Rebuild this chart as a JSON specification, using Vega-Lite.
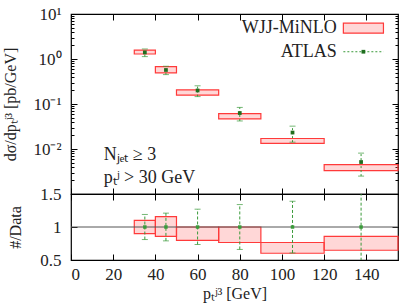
{
  "$schema": "https://vega.github.io/schema/vega-lite/v6.json",
  "background": "white",
  "padding": {"left": 2, "top": 4, "right": 3, "bottom": 2},
  "bounds": "flush",
  "config": {
    "font": "Liberation Serif",
    "view": {"stroke": "black", "strokeWidth": 1.2},
    "axis": {
      "labelFont": "Liberation Serif", "titleFont": "Liberation Serif",
      "labelFontSize": 17, "titleFontSize": 16,
      "labelColor": "#222", "titleColor": "#222", "titleFontWeight": "normal",
      "grid": false, "domain": false, "tickColor": "black", "tickSize": -6, "tickWidth": 1,
      "labelPadding": 16
    }
  },
  "datasets": {
    "minlo": [
      {"lo": 30, "hi": 40, "ylo": 1.29, "yhi": 1.58},
      {"lo": 40, "hi": 50, "ylo": 0.49, "yhi": 0.676},
      {"lo": 50, "hi": 70, "ylo": 0.157, "yhi": 0.207},
      {"lo": 70, "hi": 90, "ylo": 0.0465, "yhi": 0.061},
      {"lo": 90, "hi": 120, "ylo": 0.0133, "yhi": 0.0171},
      {"lo": 120, "hi": 155, "ylo": 0.0033, "yhi": 0.00448}
    ],
    "atlas": [
      {"x": 35, "y": 1.40, "elo": 1.13, "ehi": 1.67},
      {"x": 45, "y": 0.57, "elo": 0.45, "ehi": 0.69},
      {"x": 60, "y": 0.20, "elo": 0.146, "ehi": 0.254},
      {"x": 80, "y": 0.063, "elo": 0.042, "ehi": 0.084},
      {"x": 105, "y": 0.0232, "elo": 0.0142, "ehi": 0.0322},
      {"x": 137.5, "y": 0.00514, "elo": 0.0025, "ehi": 0.0081}
    ],
    "rminlo": [
      {"lo": 30, "hi": 40, "ylo": 0.90, "yhi": 1.10},
      {"lo": 40, "hi": 50, "ylo": 0.857, "yhi": 1.158},
      {"lo": 50, "hi": 70, "ylo": 0.796, "yhi": 1.0},
      {"lo": 70, "hi": 90, "ylo": 0.765, "yhi": 1.0},
      {"lo": 90, "hi": 120, "ylo": 0.602, "yhi": 0.765},
      {"lo": 120, "hi": 155, "ylo": 0.648, "yhi": 0.857}
    ],
    "ratlas": [
      {"x": 35, "y": 1, "elo": 0.81, "ehi": 1.19},
      {"x": 45, "y": 1, "elo": 0.79, "ehi": 1.21},
      {"x": 60, "y": 1, "elo": 0.735, "ehi": 1.27},
      {"x": 80, "y": 1, "elo": 0.66, "ehi": 1.34},
      {"x": 105, "y": 1, "elo": 0.607, "ehi": 1.39},
      {"x": 137.5, "y": 1, "elo": 0.49, "ehi": 1.58}
    ]
  },
  "spacing": 0,
  "vconcat": [
    {
      "width": 327,
      "height": 180,
      "resolve": {"axis": {"x": "independent", "y": "independent"}},
      "layer": [
        {
          "data": {"name": "minlo"},
          "mark": {"type": "rect", "fill": "#ff6060", "fillOpacity": 0.25, "stroke": "#ff3a3a", "strokeWidth": 1.2},
          "encoding": {
            "x": {"field": "lo", "type": "quantitative", "scale": {"domain": [0, 155], "nice": false, "zero": false},
                  "axis": {"orient": "bottom", "labels": false, "title": null, "values": [0, 20, 40, 60, 80, 100, 120, 140]}},
            "x2": {"field": "hi"},
            "y": {"field": "ylo", "type": "quantitative", "scale": {"type": "log", "domain": [0.001, 10], "nice": false},
                  "axis": {"orient": "left", "title": "dσ/dpₜʲ³ [pb/GeV]", "titlePadding": 14,
                           "values": [0.001, 0.002, 0.003, 0.004, 0.005, 0.006, 0.007, 0.008, 0.009, 0.01, 0.02, 0.03, 0.04, 0.05, 0.06, 0.07, 0.08, 0.09, 0.1, 0.2, 0.3, 0.4, 0.5, 0.6, 0.7, 0.8, 0.9, 1, 2, 3, 4, 5, 6, 7, 8, 9, 10],
                           "labelExpr": "datum.value == 10 ? '10¹' : datum.value == 1 ? '10⁰' : datum.value == 0.1 ? '10⁻¹' : datum.value == 0.01 ? '10⁻²' : ''",
                           "tickSize": {"condition": {"test": "datum.value == 10 || datum.value == 1 || datum.value == 0.1 || datum.value == 0.01 || datum.value == 0.001", "value": -6}, "value": -3}}},
            "y2": {"field": "yhi"}
          }
        },
        {
          "data": {"name": "atlas"},
          "mark": {"type": "errorbar", "ticks": {"size": 6, "color": "#3a9a3a"}, "rule": {"strokeDash": [2, 2], "color": "#3a9a3a"}},
          "encoding": {
            "x": {"field": "x", "type": "quantitative", "axis": {"orient": "top", "labels": false, "title": null, "values": [0, 20, 40, 60, 80, 100, 120, 140]}},
            "y": {"field": "elo", "type": "quantitative",
                  "axis": {"orient": "right", "labels": false, "title": null,
                           "values": [0.001, 0.002, 0.003, 0.004, 0.005, 0.006, 0.007, 0.008, 0.009, 0.01, 0.02, 0.03, 0.04, 0.05, 0.06, 0.07, 0.08, 0.09, 0.1, 0.2, 0.3, 0.4, 0.5, 0.6, 0.7, 0.8, 0.9, 1, 2, 3, 4, 5, 6, 7, 8, 9, 10],
                           "tickSize": {"condition": {"test": "datum.value == 10 || datum.value == 1 || datum.value == 0.1 || datum.value == 0.01 || datum.value == 0.001", "value": -6}, "value": -3}}},
            "y2": {"field": "ehi"}
          }
        },
        {
          "data": {"name": "atlas"},
          "mark": {"type": "point", "shape": "square", "filled": true, "size": 14, "color": "#1f6e1f", "opacity": 1},
          "encoding": {
            "x": {"field": "x", "type": "quantitative", "axis": null},
            "y": {"field": "y", "type": "quantitative", "axis": null}
          }
        },
        {
          "data": {"values": [{}]},
          "mark": {"type": "text", "align": "left", "baseline": "middle", "fontSize": 18, "font": "Liberation Serif", "color": "#222"},
          "encoding": {
            "x": {"datum": 15.5, "type": "quantitative", "axis": null},
            "y": {"datum": 0.0075, "type": "quantitative", "axis": null},
            "text": {"value": "Nⱼₑₜ ≥ 3"}
          }
        },
        {
          "data": {"values": [{}]},
          "mark": {"type": "text", "align": "left", "baseline": "middle", "fontSize": 18, "font": "Liberation Serif", "color": "#222"},
          "encoding": {
            "x": {"datum": 15.5, "type": "quantitative", "axis": null},
            "y": {"datum": 0.0023, "type": "quantitative", "axis": null},
            "text": {"value": "pₜʲ > 30 GeV"}
          }
        },
        {
          "data": {"values": [{}]},
          "mark": {"type": "text", "align": "right", "baseline": "middle", "fontSize": 18, "font": "Liberation Serif", "color": "#222"},
          "encoding": {
            "x": {"datum": 126, "type": "quantitative", "axis": null},
            "y": {"datum": 4.8, "type": "quantitative", "axis": null},
            "text": {"value": "WJJ-MiNLO"}
          }
        },
        {
          "data": {"values": [{}]},
          "mark": {"type": "text", "align": "right", "baseline": "middle", "fontSize": 18, "font": "Liberation Serif", "color": "#222"},
          "encoding": {
            "x": {"datum": 126, "type": "quantitative", "axis": null},
            "y": {"datum": 1.45, "type": "quantitative", "axis": null},
            "text": {"value": "ATLAS"}
          }
        },
        {
          "data": {"values": [{}]},
          "mark": {"type": "rect", "fill": "#ff6060", "fillOpacity": 0.25, "stroke": "#ff3a3a", "strokeWidth": 1.2},
          "encoding": {
            "x": {"datum": 129.1, "type": "quantitative", "axis": null},
            "x2": {"datum": 148.1},
            "y": {"datum": 3.75, "type": "quantitative", "axis": null},
            "y2": {"datum": 6.24}
          }
        },
        {
          "data": {"values": [{}]},
          "mark": {"type": "rule", "strokeDash": [2, 2], "color": "#3a9a3a"},
          "encoding": {
            "x": {"datum": 129.1, "type": "quantitative", "axis": null},
            "x2": {"datum": 148.1},
            "y": {"datum": 1.45, "type": "quantitative", "axis": null}
          }
        },
        {
          "data": {"values": [{}]},
          "mark": {"type": "point", "shape": "square", "filled": true, "size": 14, "color": "#1f6e1f", "opacity": 1},
          "encoding": {
            "x": {"datum": 138.6, "type": "quantitative", "axis": null},
            "y": {"datum": 1.45, "type": "quantitative", "axis": null}
          }
        }
      ]
    },
    {
      "width": 327,
      "height": 66,
      "resolve": {"axis": {"x": "independent", "y": "independent"}},
      "layer": [
        {
          "data": {"name": "rminlo"},
          "mark": {"type": "rect", "fill": "#ff6060", "fillOpacity": 0.25, "stroke": "#ff3a3a", "strokeWidth": 1.2},
          "encoding": {
            "x": {"field": "lo", "type": "quantitative", "scale": {"domain": [0, 155], "nice": false, "zero": false},
                  "axis": {"orient": "bottom", "title": "pₜʲ³ [GeV]", "values": [0, 20, 40, 60, 80, 100, 120, 140], "labelPadding": 12, "titlePadding": 3}},
            "x2": {"field": "hi"},
            "y": {"field": "ylo", "type": "quantitative", "scale": {"domain": [0.5, 1.5], "nice": false, "zero": false},
                  "axis": {"orient": "left", "title": "#/Data", "titlePadding": 16, "values": [0.5, 1, 1.5], "labelExpr": "datum.value == 1 ? '1' : format(datum.value, '.1f')"}},
            "y2": {"field": "yhi"}
          }
        },
        {
          "data": {"values": [{}]},
          "mark": {"type": "rule", "color": "#555", "strokeWidth": 1},
          "encoding": {
            "y": {"datum": 1, "type": "quantitative", "axis": null}
          }
        },
        {
          "data": {"name": "ratlas"},
          "mark": {"type": "errorbar", "clip": true, "ticks": {"size": 6, "color": "#3a9a3a"}, "rule": {"strokeDash": [3, 2], "color": "#3a9a3a"}},
          "encoding": {
            "x": {"field": "x", "type": "quantitative", "axis": {"orient": "top", "labels": false, "title": null, "values": [0, 20, 40, 60, 80, 100, 120, 140]}},
            "y": {"field": "elo", "type": "quantitative", "axis": {"orient": "right", "labels": false, "title": null, "values": [0.5, 1, 1.5]}},
            "y2": {"field": "ehi"}
          }
        },
        {
          "data": {"name": "ratlas"},
          "mark": {"type": "point", "shape": "square", "filled": true, "size": 12, "color": "#3a9a3a", "opacity": 1},
          "encoding": {
            "x": {"field": "x", "type": "quantitative", "axis": null},
            "y": {"field": "y", "type": "quantitative", "axis": null}
          }
        }
      ]
    }
  ]
}
